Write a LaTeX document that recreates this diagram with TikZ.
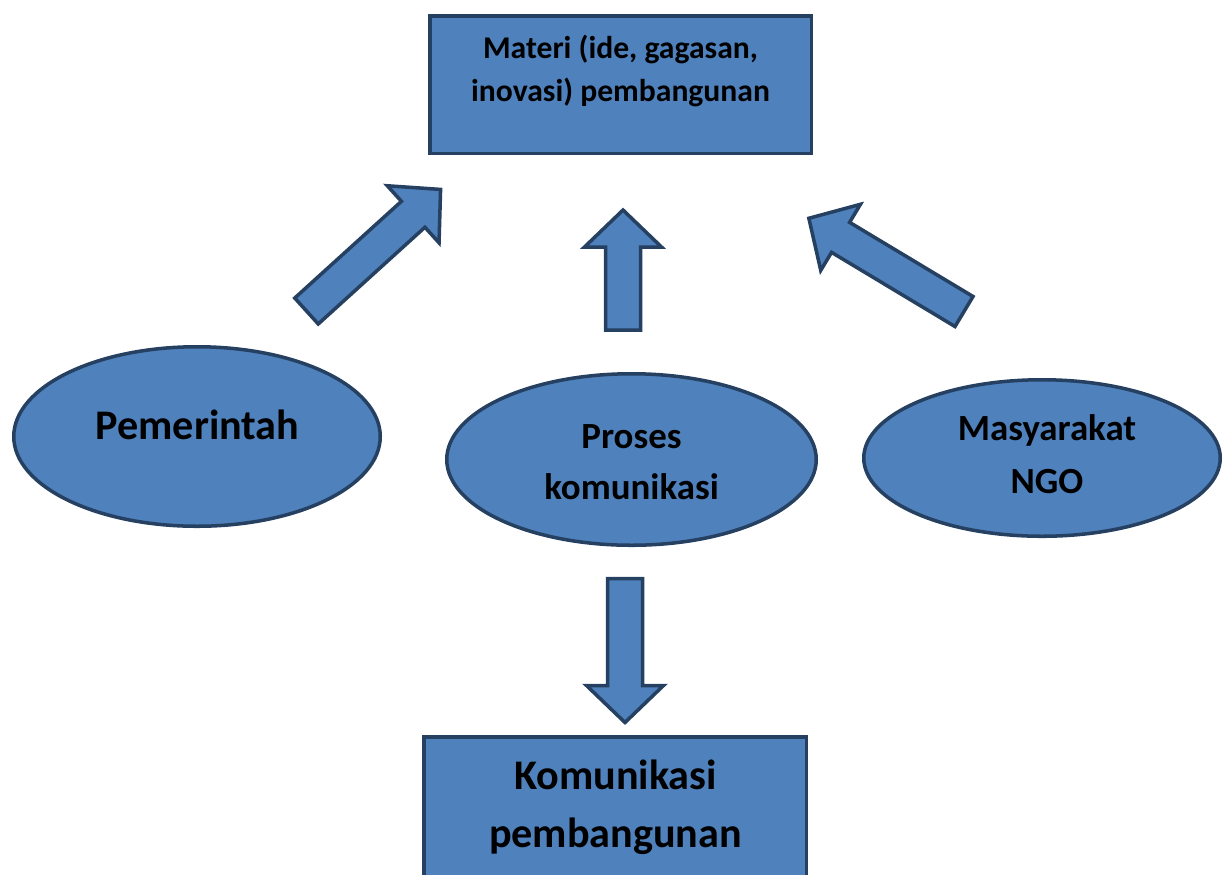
\documentclass[tikz,border=0pt]{standalone}
\usepackage{fontspec}
\setmainfont{Carlito}
\usepackage{tikz}
\usetikzlibrary{shapes.geometric}
\definecolor{boxfill}{RGB}{79,129,189}
\definecolor{boxline}{RGB}{37,64,97}

\begin{document}
\begin{tikzpicture}[
	shapefill/.style={draw=boxline,fill=boxfill,line width=2pt},
	rectbox/.style={shapefill,rectangle,inner sep=0pt},
	ovalbox/.style={shapefill,ellipse,inner sep=0pt},
	label text/.style={align=center,font=\bfseries#1},
	pics/blockarrow/.style={code={
		\draw[shapefill] (0,-0.35) -- (#1-0.74,-0.35) -- (#1-0.74,-0.77) -- (#1,0)
			-- (#1-0.74,0.77) -- (#1-0.74,0.35) -- (0,0.35) -- cycle;
	}}
]
			\useasboundingbox (0,0) rectangle (24.48,-17.48);
			\node[rectbox,minimum width=7.63cm,minimum height=2.75cm] (materi) at (12.41,-1.69) {};
			\node[label text={\fontsize{18}{24.5}\selectfont}] (materitext) at (12.41,-1.41) {Materi (ide, gagasan,\\inovasi) pembangunan};
			\node[ovalbox,minimum width=7.33cm,minimum height=3.59cm] (pemerintah) at (3.94,-8.73) {};
			\node[label text={\fontsize{24}{30}\selectfont}] (pemerintahtext) at (3.95,-8.5) {Pemerintah};
			\node[ovalbox,minimum width=7.39cm,minimum height=3.43cm] (proses) at (12.63,-9.19) {};
			\node[label text={\fontsize{21}{29}\selectfont}] (prosestext) at (12.63,-9.24) {Proses\\komunikasi};
			\node[ovalbox,minimum width=7.13cm,minimum height=3.13cm] (masyarakat) at (20.84,-9.16) {};
			\node[label text={\fontsize{21}{30.5}\selectfont}] (masyarakattext) at (20.94,-9.08) {Masyarakat\\NGO};
			\node[rectbox,minimum width=7.65cm,minimum height=2.8cm] (komunikasi) at (12.3,-16.14) {};
			\node[label text={\fontsize{24}{33}\selectfont}] (komunikasitext) at (12.31,-16.14) {Komunikasi\\pembangunan};
			\pic[rotate=42.2] at (6.13,-6.22) {blockarrow=3.62};
			\pic[rotate=149] at (19.28,-6.23) {blockarrow=3.62};
			\pic[rotate=90] at (12.46,-6.6) {blockarrow=2.4};
			\pic[rotate=-90] at (12.5,-11.57) {blockarrow=2.88};
		\end{tikzpicture}
\end{document}
